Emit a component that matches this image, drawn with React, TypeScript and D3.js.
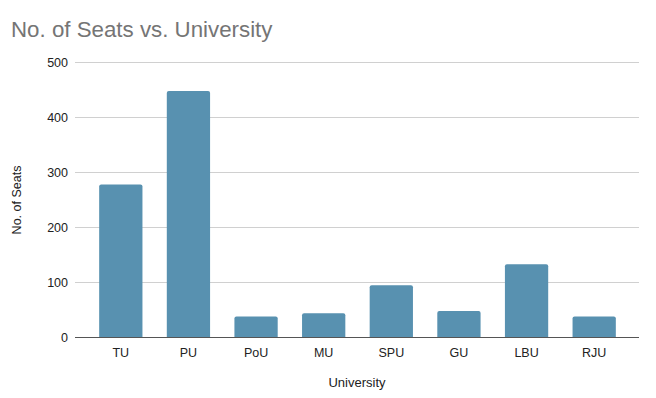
import * as d3 from "d3";

const universities = ["TU", "PU", "PoU", "MU", "SPU", "GU", "LBU", "RJU"];
const seats = [278, 448, 38, 44, 95, 48, 133, 38];
const yTicks = [0, 100, 200, 300, 400, 500];

const W = 656;
const H = 398;
const plot = { left: 75, right: 639, top: 62.5, bottom: 337.5 };
const barColor = "#5891b0";
const font = "Arial, 'Liberation Sans', Helvetica, sans-serif";

export default function App() {
  const x = d3
    .scaleBand()
    .domain(universities)
    .range([87, 628])
    .paddingInner(0.36)
    .paddingOuter(0.18);

  const y = d3.scaleLinear().domain([0, 500]).range([plot.bottom, plot.top]);

  const r = 2;
  const barPath = (name: string, v: number) => {
    const x0 = x(name) || 0;
    const w = x.bandwidth();
    const top = y(v);
    const b = y(0);
    return `M${x0},${b}V${top + r}Q${x0},${top} ${x0 + r},${top}H${x0 + w - r}Q${x0 + w},${top} ${x0 + w},${top + r}V${b}Z`;
  };

  return (
    <svg
      width={W}
      height={H}
      style={{ position: "absolute", left: 0, top: 0, background: "#fff" }}
      fontFamily={font}
    >
      <text x={11} y={37} fontSize={22.3} fill="#757575">
        No. of Seats vs. University
      </text>

      {/* Gridlines */}
      {yTicks
        .filter((t) => t > 0)
        .map((t) => (
          <line
            key={t}
            x1={plot.left}
            x2={plot.right}
            y1={y(t)}
            y2={y(t)}
            stroke="#d0d0d0"
            strokeWidth={1}
          />
        ))}

      {/* Y tick labels */}
      {yTicks.map((t) => (
        <text
          key={`yl-${t}`}
          x={68}
          y={y(t)}
          textAnchor="end"
          dominantBaseline="central"
          fontSize={12.5}
          fill="#222"
        >
          {t}
        </text>
      ))}

      {/* Bars */}
      {universities.map((u, i) => (
        <path key={u} d={barPath(u, seats[i])} fill={barColor} />
      ))}

      {/* Baseline */}
      <line
        x1={plot.left}
        x2={plot.right}
        y1={y(0)}
        y2={y(0)}
        stroke="#555"
        strokeWidth={1.2}
      />

      {/* X labels */}
      {universities.map((u) => (
        <text
          key={`xl-${u}`}
          x={(x(u) || 0) + x.bandwidth() / 2}
          y={357}
          textAnchor="middle"
          fontSize={12.5}
          fill="#222"
        >
          {u}
        </text>
      ))}

      <text x={357} y={387} textAnchor="middle" fontSize={13} fill="#222">
        University
      </text>
      <text
        transform={`translate(21,${(plot.top + plot.bottom) / 2}) rotate(-90)`}
        textAnchor="middle"
        fontSize={12.5}
        fill="#222"
      >
        No. of Seats
      </text>
    </svg>
  );
}
